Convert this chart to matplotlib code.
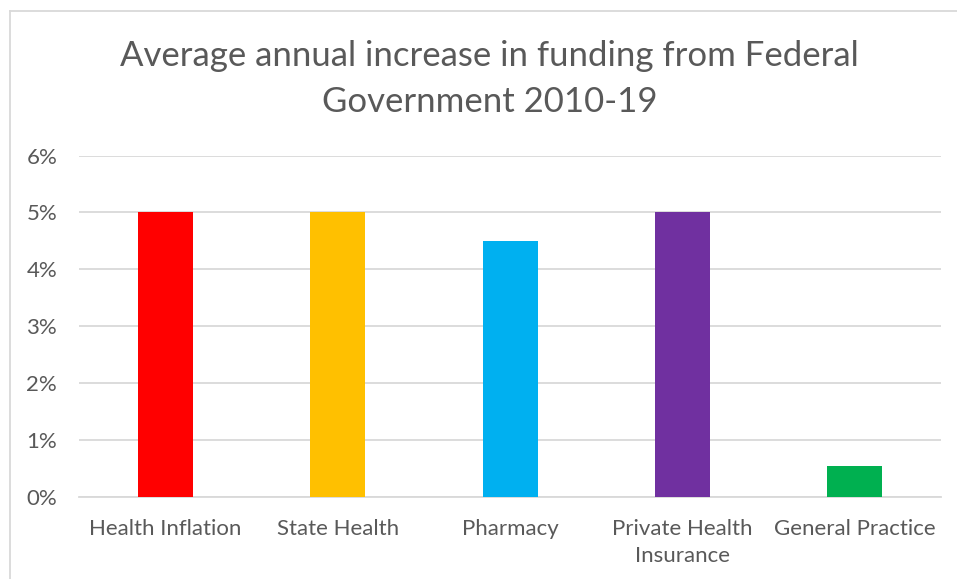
import matplotlib
matplotlib.use("Agg")
import matplotlib.pyplot as plt
from matplotlib.ticker import PercentFormatter
from matplotlib.lines import Line2D

categories = ["Health Inflation", "State Health", "Pharmacy",
              "Private Health\nInsurance", "General Practice"]
increase_pct = [5.0, 5.0, 4.5, 5.0, 0.55]
bar_colors = ["#FF0000", "#FFC000", "#00B0F0", "#7030A0", "#00B050"]
title = "Average annual increase in funding from Federal\nGovernment 2010-19"

text_grey = "#595959"
grid_grey = "#D9D9D9"

plt.rcParams["font.family"] = ["Lato", "DejaVu Sans"]

fig = plt.figure(figsize=(9.57, 5.79), dpi=100)
ax = fig.add_axes([0.083, 0.1416, 0.9, 0.5898])

x = range(len(categories))
ax.bar(x, increase_pct, width=0.32, color=bar_colors, zorder=3)

ax.set_xlim(-0.5, len(categories) - 0.5)
ax.set_ylim(0, 6)
ax.set_yticks(range(0, 7))
ax.yaxis.set_major_formatter(PercentFormatter(decimals=0))
ax.set_xticks(list(x))
ax.set_xticklabels(categories, linespacing=1.4)

ax.grid(axis="y", color=grid_grey, linewidth=1.3, zorder=0)
for side in ["top", "right", "left"]:
    ax.spines[side].set_visible(False)
ax.spines["bottom"].set_color(grid_grey)
ax.spines["bottom"].set_linewidth(1.3)
ax.tick_params(axis="both", length=0, labelsize=16, labelcolor=text_grey)
ax.tick_params(axis="y", pad=16)
ax.tick_params(axis="x", pad=16)

fig.text(0.5115, 1 - 40 / 579, title, ha="center", va="top",
         fontsize=25, color=text_grey, linespacing=1.55)

# chart frame (top and left edges)
fig.add_artist(Line2D([10 / 957, 10 / 957], [0, 1 - 11 / 579],
                      transform=fig.transFigure, color=grid_grey, lw=1.3))
fig.add_artist(Line2D([10 / 957, 1], [1 - 11 / 579, 1 - 11 / 579],
                      transform=fig.transFigure, color=grid_grey, lw=1.3))

fig.savefig("out.png", dpi=100, facecolor="white")
